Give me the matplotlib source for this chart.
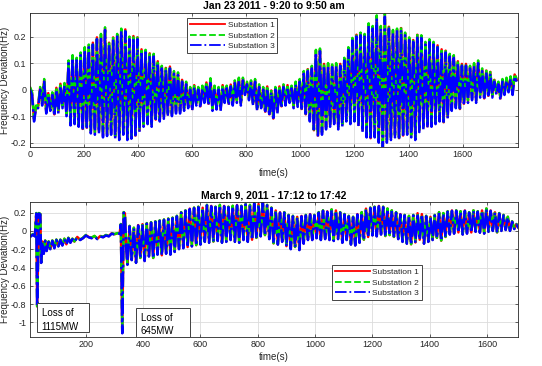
import numpy as np
import matplotlib
matplotlib.use("Agg")
import matplotlib.pyplot as plt
import matplotlib.ticker as mticker
from matplotlib.patches import Rectangle

plt.rcParams['font.family'] = ['Liberation Sans', 'DejaVu Sans']
plt.rcParams['axes.unicode_minus'] = False

labels = ["Substation 1", "Substation 2", "Substation 3"]
colors = ["#ff0000", "#00dd00", "#0000ff"]
styles = ["-", "--", "-."]

# ---- Jan 23 2011: troughs at t = 0,15,...,1800 ; peaks half a cycle later
top_t0 = 0.0
top_lo = [0.0, -0.12, -0.07, -0.06, -0.09, -0.08, -0.1, -0.09, -0.07, -0.1,
          -0.135, -0.13, -0.14, -0.155, -0.15, -0.165, -0.17, -0.165, -0.18, -0.175,
          -0.17, -0.185, -0.19, -0.17, -0.19, -0.185, -0.18, -0.16, -0.14, -0.13,
          -0.14, -0.12, -0.12, -0.11, -0.1, -0.1, -0.09, -0.09, -0.08, -0.07,
          -0.08, -0.06, -0.07, -0.05, -0.06, -0.08, -0.075, -0.08, -0.05, -0.06,
          -0.06, -0.05, -0.06, -0.02, -0.04, -0.06, -0.08, -0.07, -0.09, -0.1,
          -0.116, -0.09, -0.07, -0.06, -0.05, -0.07, -0.065, -0.08, -0.1, -0.12,
          -0.16, -0.18, -0.17, -0.15, -0.14, -0.13, -0.15, -0.14, -0.12, -0.13,
          -0.12, -0.14, -0.16, -0.18, -0.19, -0.18, -0.2, -0.225, -0.2, -0.19,
          -0.18, -0.19, -0.18, -0.17, -0.18, -0.19, -0.16, -0.15, -0.145, -0.14,
          -0.13, -0.12, -0.13, -0.11, -0.08, -0.07, -0.08, -0.06, -0.05, -0.04,
          -0.05, -0.03, -0.04, -0.03, -0.03, -0.02, -0.04, -0.02, -0.01, -0.02,
          0.03]
top_hi = [-0.02, -0.07, 0.0, 0.03, -0.02, -0.02, 0.0, 0.015, 0.015, 0.1,
          0.12, 0.11, 0.13, 0.15, 0.16, 0.17, 0.19, 0.2, 0.225, 0.17,
          0.19, 0.2, 0.22, 0.22, 0.19, 0.195, 0.19, 0.145, 0.14, 0.13,
          0.125, 0.1, 0.08, 0.075, 0.08, 0.06, 0.055, 0.03, 0.02, 0.0,
          0.01, 0.0, 0.005, 0.02, 0.033, 0.005, 0.0, 0.01, 0.005, 0.012,
          0.025, 0.035, 0.035, 0.02, 0.025, 0.03, 0.01, 0.0, 0.005, -0.01,
          0.0, 0.005, 0.01, 0.01, 0.005, 0.02, 0.03, 0.06, 0.07, 0.08,
          0.14, 0.145, 0.09, 0.09, 0.085, 0.09, 0.09, 0.11, 0.15, 0.185,
          0.2, 0.205, 0.2, 0.24, 0.23, 0.27, 0.23, 0.275, 0.23, 0.215,
          0.22, 0.225, 0.205, 0.187, 0.18, 0.2, 0.195, 0.17, 0.18, 0.17,
          0.16, 0.145, 0.14, 0.125, 0.12, 0.1, 0.09, 0.09, 0.08, 0.09,
          0.1, 0.07, 0.065, 0.06, 0.03, 0.02, 0.03, 0.035, 0.04, 0.05]

# ---- March 9 2011: quiet part with the two generator trips
bot_pre_t = [0, 8, 15, 22, 27, 30, 36, 41, 44, 48, 53, 58, 63, 70, 76, 83, 90, 97,
             104, 111, 118, 125, 132, 139, 146, 153, 160, 170, 180, 190, 200, 210,
             220, 230, 240, 250, 260, 270, 280, 290, 300, 310, 318, 322, 327, 332,
             336, 341]
bot_pre_v = [-0.05, -0.06, -0.04, -0.06, 0.19, -0.83, 0.19, 0.18, -0.35, -0.12,
             -0.25, -0.11, -0.22, -0.12, -0.2, -0.11, -0.19, -0.1, -0.17, -0.1,
             -0.16, -0.09, -0.15, -0.08, -0.13, -0.09, -0.12, -0.07, -0.1, -0.08,
             -0.05, -0.07, -0.08, -0.06, -0.09, -0.06, -0.07, -0.05, -0.06, -0.03,
             -0.04, -0.03, -0.03, 0.07, -1.12, 0.2, 0.19, -0.2]
# oscillating part: troughs at t = 345,360,...,1710 ; peaks half a cycle later
bot_t0 = 345.0
bot_lo = [-0.37, -0.32, -0.35, -0.3, -0.33, -0.28, -0.3, -0.26, -0.27, -0.25,
          -0.26, -0.23, -0.2, -0.19, -0.18, -0.17, -0.16, -0.15, -0.12, -0.13,
          -0.12, -0.11, -0.13, -0.12, -0.1, -0.12, -0.13, -0.1, -0.12, -0.1,
          -0.08, -0.06, -0.05, -0.09, -0.14, -0.15, -0.12, -0.17, -0.2, -0.18,
          -0.21, -0.14, -0.1, -0.1, -0.08, -0.1, -0.09, -0.1, -0.11, -0.09,
          -0.13, -0.1, -0.15, -0.16, -0.13, -0.1, -0.07, -0.05, -0.06, -0.04,
          -0.06, -0.05, -0.07, -0.09, -0.12, -0.14, -0.15, -0.13, -0.1, -0.14,
          -0.12, -0.1, -0.08, -0.11, -0.07, -0.04, -0.03, -0.02, -0.04, -0.03,
          -0.02, -0.01, -0.02, -0.03, -0.01, 0.0, -0.02, 0.0, 0.01, 0.0,
          0.02, 0.03]
bot_hi = [0.05, 0.03, 0.06, 0.07, 0.08, 0.09, 0.1, 0.11, 0.12, 0.13,
          0.14, 0.16, 0.2, 0.22, 0.24, 0.25, 0.26, 0.25, 0.28, 0.27,
          0.26, 0.28, 0.27, 0.26, 0.27, 0.28, 0.27, 0.29, 0.28, 0.3,
          0.29, 0.32, 0.28, 0.25, 0.22, 0.2, 0.2, 0.17, 0.16, 0.15,
          0.16, 0.17, 0.18, 0.17, 0.2, 0.22, 0.21, 0.23, 0.22, 0.2,
          0.18, 0.16, 0.15, 0.18, 0.2, 0.24, 0.25, 0.26, 0.27, 0.26,
          0.24, 0.22, 0.2, 0.18, 0.17, 0.16, 0.17, 0.19, 0.18, 0.16,
          0.15, 0.17, 0.2, 0.19, 0.21, 0.22, 0.22, 0.21, 0.22, 0.2,
          0.22, 0.21, 0.22, 0.24, 0.22, 0.2, 0.19, 0.17, 0.15, 0.1,
          0.07]

# small shift of the other two substations seen at the peak tips
top_shift = [0.007, 0.01, 0.0]
bot_shift = [0.004, 0.006, 0.0]


def zigzag(t0, lo, hi):
    v = np.empty(len(lo) + len(hi))
    v[0::2] = lo
    v[1::2] = hi
    t = t0 + 7.5 * np.arange(len(v))
    return t, v


t_top, v_top = zigzag(top_t0, top_lo, top_hi)
t_osc, v_osc = zigzag(bot_t0, bot_lo, bot_hi)
t_bot = np.concatenate([bot_pre_t, t_osc])
v_bot = np.concatenate([bot_pre_v, v_osc])

gray = "#262626"
fig = plt.figure(figsize=(5.42, 3.66), dpi=100)
ax1 = fig.add_axes([30/542, 1-146.7/366, 488/542, 134/366])
ax2 = fig.add_axes([30/542, 1-336.5/366, 488/542, 134.8/366])


def pltformat(ax, title):
    ax.set_title(title, fontsize=7.5, fontweight='bold', pad=2.5, color='black')
    ax.grid(True, color='#dcdcdc', linewidth=0.6)
    ax.set_axisbelow(True)
    ax.tick_params(which='both', direction='in', length=2.5, width=0.5,
                   labelsize=6.5, colors=gray, top=True, right=True, pad=2.5)
    for s in ax.spines.values():
        s.set_color(gray)
        s.set_linewidth(0.6)
    ax.yaxis.set_major_formatter(mticker.FormatStrFormatter('%g'))


for i in range(3):
    ax1.plot(t_top, v_top + top_shift[i], styles[i], color=colors[i], lw=1.8,
             label=labels[i])
    ax2.plot(t_bot, v_bot + bot_shift[i], styles[i], color=colors[i], lw=1.8,
             label=labels[i])

ax1.set_xlim(0, 1805)
ax1.set_ylim(-0.215, 0.29)
ax1.set_xticks(np.arange(0, 1601, 200))
ax1.set_yticks([-0.2, -0.1, 0, 0.1, 0.2])
ax2.set_xlim(5, 1708)
ax2.set_ylim(-1.155, 0.32)
ax2.set_xticks(np.arange(200, 1601, 200))
ax2.set_yticks([-1, -0.8, -0.6, -0.4, -0.2, 0, 0.2])

pltformat(ax1, "Jan 23 2011 - 9:20 to 9:50 am")
pltformat(ax2, "March 9, 2011 - 17:12 to 17:42")

fig.text(274/542, 1-172.5/366, "time(s)", fontsize=7, color=gray,
         ha='center', va='center')
fig.text(274/542, 1-357.5/366, "time(s)", fontsize=7, color=gray,
         ha='center', va='center')
fig.text(5/542, 1-80/366, "Frequency Deviation(Hz)", fontsize=7, color=gray,
         rotation=90, ha='center', va='center')
fig.text(5/542, 1-269/366, "Frequency Deviation(Hz)", fontsize=7, color=gray,
         rotation=90, ha='center', va='center')

leg_kw = dict(loc='upper left', fontsize=6, handlelength=4.2, frameon=True,
              fancybox=False, borderpad=0.35, labelspacing=0.35,
              handletextpad=0.3, borderaxespad=0, framealpha=1)
l1 = ax1.legend(bbox_to_anchor=(0.322, 0.96), **leg_kw)
l2 = ax2.legend(bbox_to_anchor=(0.619, 0.53), **leg_kw)
for lg in (l1, l2):
    lg.get_frame().set_edgecolor(gray)
    lg.get_frame().set_linewidth(0.6)
    for txt in lg.get_texts():
        txt.set_color(gray)
    for ln in lg.get_lines():
        ln.set_linewidth(1.3)

# annotation boxes
for (x0, y0, x1, y1), lines in [((36.7, 303, 89, 332), ("Loss of", "1115MW")),
                                ((136, 307.5, 190, 336.5), ("Loss of", "645MW"))]:
    fig.add_artist(Rectangle((x0/542, 1-y1/366), (x1-x0)/542, (y1-y0)/366,
                             transform=fig.transFigure, facecolor='white',
                             edgecolor='#404040', linewidth=0.7, zorder=5))
    fig.text((x0+5)/542, 1-(y0+10.5)/366, lines[0], fontsize=7, color='black',
             va='center', zorder=6)
    fig.text((x0+5)/542, 1-(y0+24)/366, lines[1], fontsize=7, color='black',
             va='center', zorder=6)

fig.savefig("out.png", dpi=100)
